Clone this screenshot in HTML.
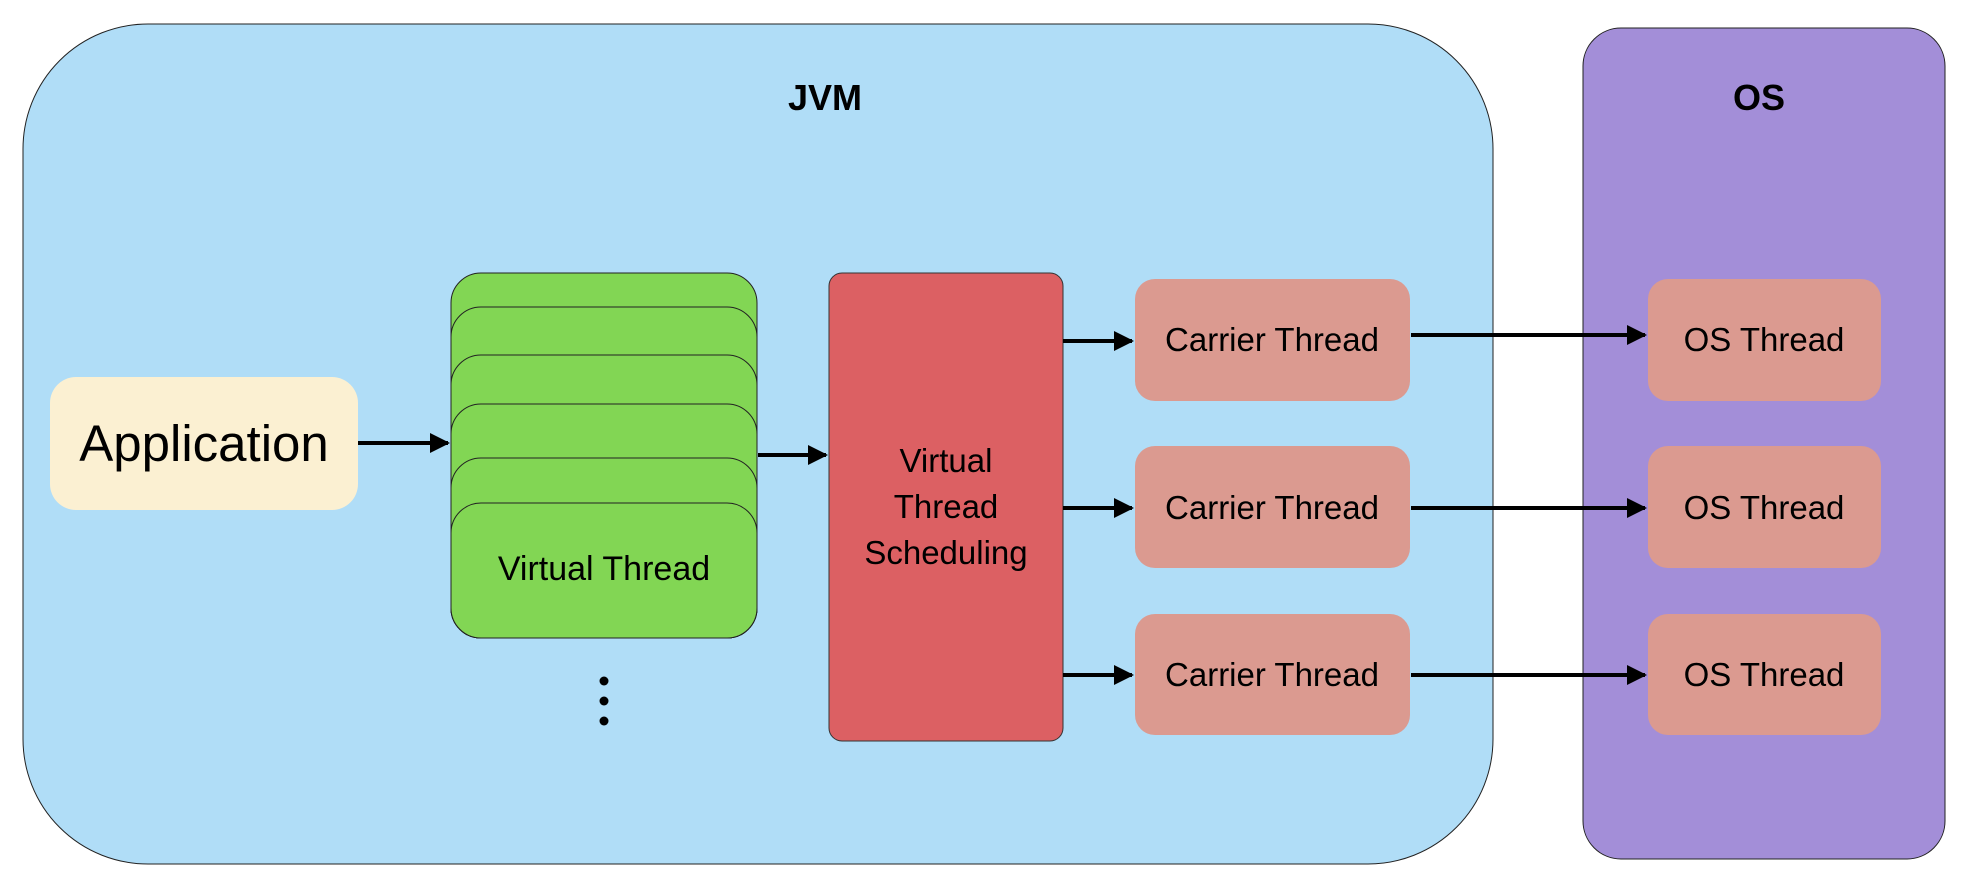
<!DOCTYPE html>
<html><head><meta charset="utf-8"><style>
html,body{margin:0;padding:0;background:#fff;}
svg{display:block;}
text{font-family:"Liberation Sans",sans-serif;fill:#000;}
</style></head><body>
<svg width="1970" height="890" viewBox="0 0 1970 890" xmlns="http://www.w3.org/2000/svg">
<defs>
<marker id="ah" markerWidth="5" markerHeight="5" refX="4.5" refY="2.5" orient="auto" markerUnits="strokeWidth">
<path d="M0,0 L5,2.5 L0,5 Z" fill="#000"/>
</marker>
</defs>
<rect x="23" y="24" width="1470" height="840" rx="125" ry="125" fill="#b0ddf7" stroke="#222" stroke-width="1"/>
<rect x="1583" y="28" width="362" height="831" rx="38" ry="38" fill="#a38ed8" stroke="#222" stroke-width="1"/>
<text x="825" y="110" font-size="36" font-weight="bold" text-anchor="middle">JVM</text>
<text x="1759" y="110" font-size="36" font-weight="bold" text-anchor="middle">OS</text>
<rect x="50" y="377" width="308" height="133" rx="26" fill="#fbf0d2"/>
<text x="204" y="461" font-size="51" text-anchor="middle">Application</text>
<g fill="#82d654" stroke="#222" stroke-width="1">
<rect x="451" y="273" width="306" height="365" rx="30"/>
<rect x="451" y="307" width="306" height="331" rx="30"/>
<rect x="451" y="355" width="306" height="283" rx="30"/>
<rect x="451" y="404" width="306" height="234" rx="30"/>
<rect x="451" y="458" width="306" height="180" rx="30"/>
<rect x="451" y="503" width="306" height="135" rx="30"/>
</g>
<text x="604" y="580" font-size="34" text-anchor="middle">Virtual Thread</text>
<circle cx="604" cy="681" r="4.5" fill="#000"/>
<circle cx="604" cy="701" r="4.5" fill="#000"/>
<circle cx="604" cy="721" r="4.5" fill="#000"/>
<rect x="829" y="273" width="234" height="468" rx="13" fill="#dc6063" stroke="#333" stroke-width="1"/>
<text x="946" y="472" font-size="33" text-anchor="middle">Virtual</text>
<text x="946" y="518" font-size="33" text-anchor="middle">Thread</text>
<text x="946" y="564" font-size="33" text-anchor="middle">Scheduling</text>
<g fill="#db9a90">
<rect x="1135" y="279" width="275" height="122" rx="20"/>
<rect x="1135" y="446" width="275" height="122" rx="20"/>
<rect x="1135" y="614" width="275" height="121" rx="20"/>
<rect x="1648" y="279" width="233" height="122" rx="20"/>
<rect x="1648" y="446" width="233" height="122" rx="20"/>
<rect x="1648" y="614" width="233" height="121" rx="20"/>
</g>
<g font-size="33" text-anchor="middle">
<text x="1272" y="351">Carrier Thread</text>
<text x="1272" y="519">Carrier Thread</text>
<text x="1272" y="686">Carrier Thread</text>
<text x="1764" y="351">OS Thread</text>
<text x="1764" y="519">OS Thread</text>
<text x="1764" y="686">OS Thread</text>
</g>
<g stroke="#000" stroke-width="4" fill="none" marker-end="url(#ah)">
<line x1="358" y1="443" x2="448" y2="443"/>
<line x1="758" y1="455" x2="826" y2="455"/>
<line x1="1063" y1="341" x2="1132" y2="341"/>
<line x1="1063" y1="508" x2="1132" y2="508"/>
<line x1="1063" y1="675" x2="1132" y2="675"/>
<line x1="1411" y1="335" x2="1645" y2="335"/>
<line x1="1411" y1="508" x2="1645" y2="508"/>
<line x1="1411" y1="675" x2="1645" y2="675"/>
</g>
</svg>
</body></html>
